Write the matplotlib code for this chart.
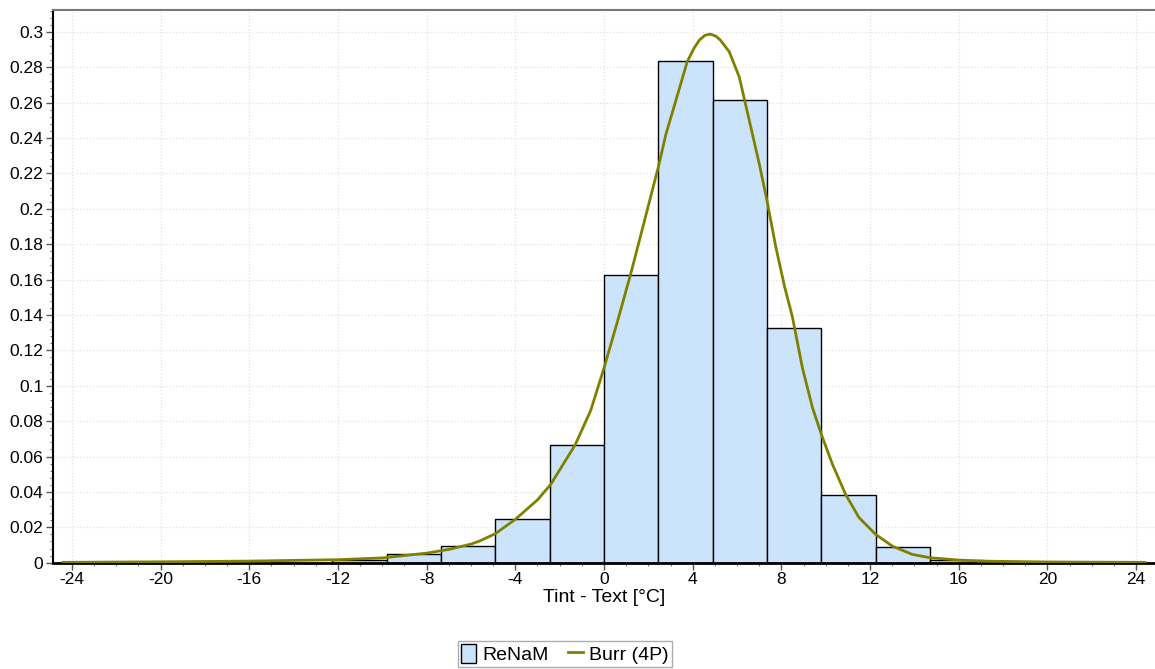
import matplotlib.pyplot as plt
import numpy as np
from matplotlib.patches import Patch
from matplotlib.lines import Line2D
from matplotlib.ticker import MultipleLocator, AutoMinorLocator, FuncFormatter

plt.rcParams['font.family'] = ['Liberation Sans', 'DejaVu Sans']
plt.rcParams['axes.unicode_minus'] = False

# histogram (ReNaM)
bin_edges = [-12.25, -9.8, -7.35, -4.9, -2.45, 0, 2.45, 4.9, 7.35, 9.8, 12.25, 14.7, 17.15]
bar_heights = [0.0015, 0.0047, 0.0094, 0.0247, 0.0666, 0.1628, 0.2834, 0.2615,
               0.1325, 0.0385, 0.0087, 0.0017]

# fitted Burr (4P) density
curve_x = [-24.4, -20, -16, -12, -10, -8, -7, -6, -5.6, -4.9, -4, -3, -2.4, -1.3,
           -0.6, 0, 0.6, 1.2, 1.8, 2.45, 2.8, 3.2, 3.75, 4.05, 4.3, 4.55, 4.8, 5.05,
           5.25, 5.65, 6.1, 6.55, 7.0, 7.35, 7.75, 8.15, 8.5, 8.95, 9.4, 9.8, 10.3,
           10.9, 11.5, 12.25, 13.0, 13.9, 14.7, 16.0, 17.0, 20, 24.4]
curve_y = [0.0002, 0.0005, 0.0009, 0.0017, 0.0027, 0.0054, 0.0075, 0.0105, 0.0123,
           0.0164, 0.0245, 0.0355, 0.0443, 0.0666, 0.086, 0.110, 0.136, 0.163,
           0.192, 0.2236, 0.2425, 0.2594, 0.283, 0.2905, 0.2953, 0.2980, 0.2987,
           0.2975, 0.2953, 0.2887, 0.2745, 0.25, 0.2255, 0.2047, 0.1783, 0.1557,
           0.1387, 0.110, 0.0877, 0.0726, 0.0557, 0.0385, 0.0255, 0.016, 0.0094,
           0.0047, 0.0028, 0.0015, 0.0009, 0.0004, 0.0002]

bar_color = '#cbe4fc'
line_color = '#808000'

fig = plt.figure(figsize=(11.55, 6.69), dpi=100)
ax = fig.add_axes([0.0459, 0.1589, 0.9541, 0.8261])

edges = np.array(bin_edges)
ax.bar(edges[:-1], bar_heights, width=np.diff(edges), align='edge',
       color=bar_color, edgecolor='black', linewidth=1.0, zorder=2)
ax.plot(curve_x, curve_y, color=line_color, linewidth=2, zorder=3)

ax.set_xlim(-24.85, 24.85)
ax.set_ylim(0, 0.3123)

ax.xaxis.set_major_locator(MultipleLocator(4))
ax.xaxis.set_minor_locator(MultipleLocator(1))
ax.yaxis.set_major_locator(MultipleLocator(0.02))
ax.yaxis.set_minor_locator(AutoMinorLocator(5))
ax.yaxis.set_major_formatter(FuncFormatter(lambda v, p: '%g' % round(v, 4)))

ax.grid(True, which='major', color='#e2e2e2', linestyle=':', linewidth=0.9, zorder=0)
ax.set_axisbelow(True)

ax.tick_params(axis='both', which='major', direction='out', length=5, width=1,
               labelsize=12.5, color='#555555', pad=2)
ax.tick_params(axis='both', which='minor', direction='out', length=2.5, width=0.8,
               color='#777777')

ax.spines['right'].set_visible(False)
ax.spines['top'].set_color('#777777')
ax.spines['top'].set_linewidth(1.5)
ax.spines['left'].set_linewidth(1.5)
ax.spines['bottom'].set_linewidth(2)

ax.set_xlabel('Tint - Text [°C]', fontsize=14, labelpad=1)

handles = [Patch(facecolor=bar_color, edgecolor='black', linewidth=1.0),
           Line2D([0], [0], color=line_color, linewidth=2)]
fig.legend(handles, ['ReNaM', 'Burr (4P)'], loc='center', ncol=2,
           bbox_to_anchor=(0.489, 0.0224), fontsize=14, frameon=True,
           fancybox=False, edgecolor='#999999', handlelength=0.8,
           handleheight=1.1, handletextpad=0.3, columnspacing=1.0,
           borderpad=0.15, borderaxespad=0)

fig.savefig('out.png', dpi=100)
